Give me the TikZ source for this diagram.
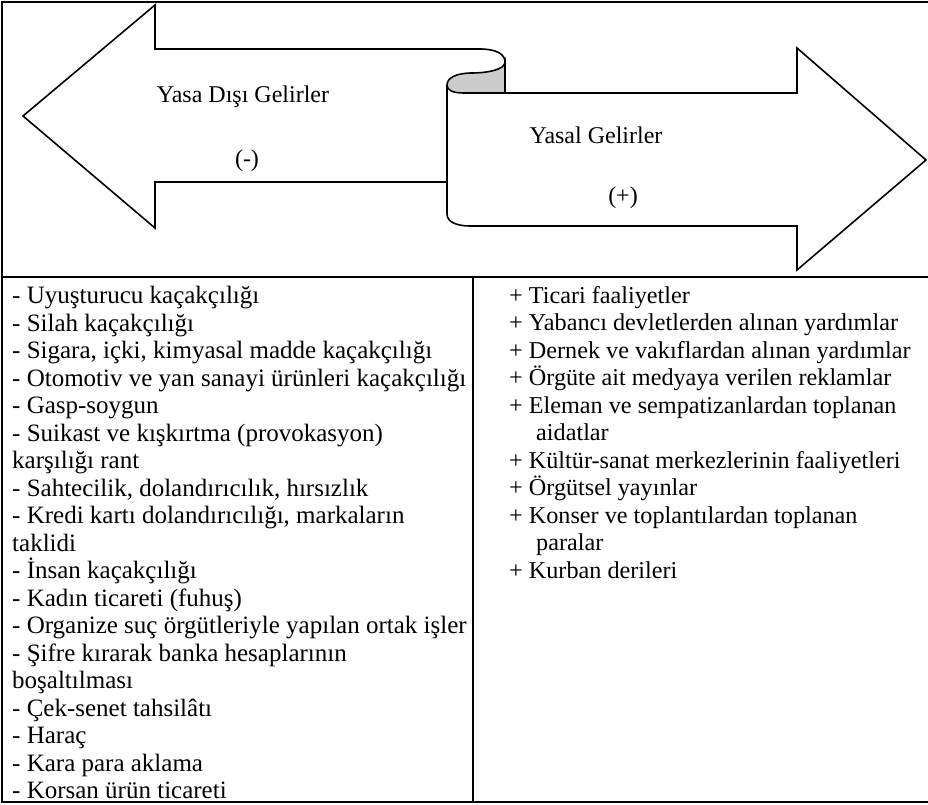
\documentclass[tikz,border=0pt]{standalone}
\usepackage{fontspec}
\setmainfont{Liberation Serif}
\tikzstyle{tableline} = [line width=2pt, draw=black]
\tikzstyle{arrowline} = [line width=1.6pt, draw=black, line join=miter]
\tikzstyle{headtext} = [inner sep=0pt, anchor=base, font=\fontsize{24}{27.5}\selectfont]
\tikzstyle{listtext} = [inner sep=0pt, align=left, anchor=north west]

\begin{document}
\begin{tikzpicture}[x=1pt, y=-1pt]

    \useasboundingbox (0,0) rectangle (928,804);

    % table
    \draw [tableline] (2,2) rectangle (980,802);
    \draw [tableline] (2,277) -- (980,277);
    \draw [tableline] (473,277) -- (473,802);

    % left arrow
    \draw [arrowline] (447,182) -- (155,182) -- (155,228) -- (23,116) -- (155,5) -- (155,49) -- (480,49)
        .. controls (496,49) and (505,54) .. (505,62);
    \filldraw [arrowline, fill=gray!40] (505,62) .. controls (505,70) and (486,73) .. (472,73)
        .. controls (456,73) and (447,78) .. (447,85)
        .. controls (447,90) and (452,93) .. (464,93) -- (505,93) -- cycle;

    % right arrow
    \draw [arrowline] (447,85) -- (447,214) .. controls (447,222) and (457,226) .. (470,226)
        -- (797,226) -- (797,270) -- (926,160) -- (797,48) -- (797,93) -- (505,93);

    \node (illegal) [headtext] at (243,102) {Yasa Dışı Gelirler};
    \node (minus) [headtext] at (247,166) {(-)};
    \node (legal) [headtext] at (596,143) {Yasal Gelirler};
    \node (plus) [headtext] at (623,203) {(+)};

    \node (illegallist) [listtext, font=\fontsize{25}{27.5}\selectfont] at (12,286) {- Uyuşturucu kaçakçılığı\\
        - Silah kaçakçılığı\\
        - Sigara, içki, kimyasal madde kaçakçılığı\\
        - Otomotiv ve yan sanayi ürünleri kaçakçılığı\\
        - Gasp-soygun\\
        - Suikast ve kışkırtma (provokasyon)\\
        karşılığı rant\\
        - Sahtecilik, dolandırıcılık, hırsızlık\\
        - Kredi kartı dolandırıcılığı, markaların\\
        taklidi\\
        - İnsan kaçakçılığı\\
        - Kadın ticareti (fuhuş)\\
        - Organize suç örgütleriyle yapılan ortak işler\\
        - Şifre kırarak banka hesaplarının\\
        boşaltılması\\
        - Çek-senet tahsilâtı\\
        - Haraç\\
        - Kara para aklama\\
        - Korsan ürün ticareti};

    \node (legallist) [listtext, font=\fontsize{24.2}{27.5}\selectfont] at (509,286) {+ Ticari faaliyetler\\
        + Yabancı devletlerden alınan yardımlar\\
        + Dernek ve vakıflardan alınan yardımlar\\
        + Örgüte ait medyaya verilen reklamlar\\
        + Eleman ve sempatizanlardan toplanan\\
        \hspace*{27pt}aidatlar\\
        + Kültür-sanat merkezlerinin faaliyetleri\\
        + Örgütsel yayınlar\\
        + Konser ve toplantılardan toplanan\\
        \hspace*{27pt}paralar\\
        + Kurban derileri};

\end{tikzpicture}
\end{document}
